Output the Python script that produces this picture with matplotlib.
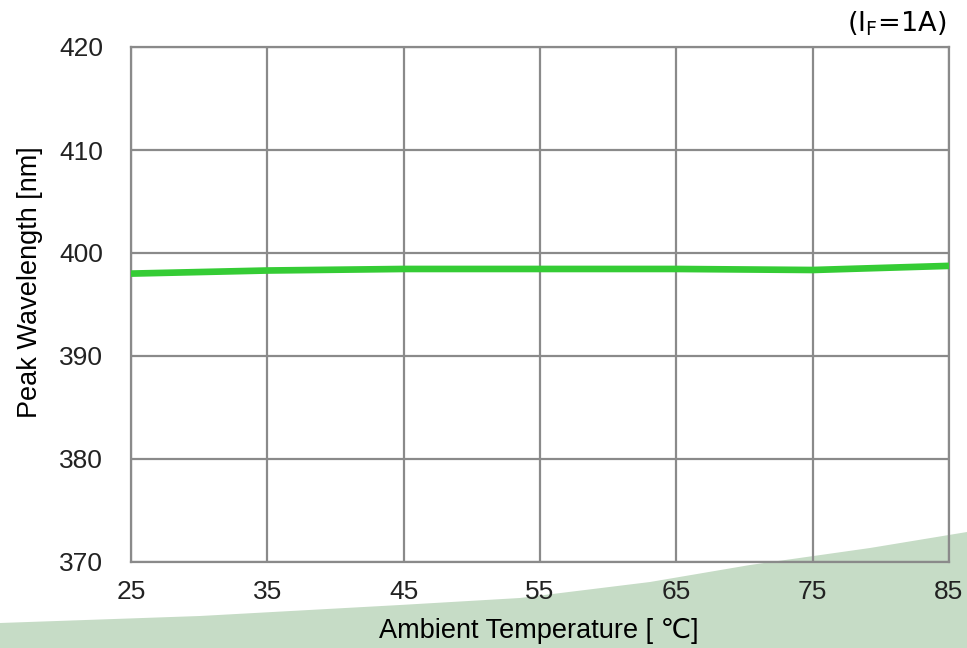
import matplotlib
matplotlib.use("Agg")
import matplotlib.pyplot as plt
import numpy as np
from matplotlib.patches import Polygon

temps = [25, 35, 45, 55, 65, 75, 85]
wavelength = [398.0, 398.3, 398.45, 398.45, 398.45, 398.35, 398.75]
x_ticks = [25, 35, 45, 55, 65, 75, 85]
y_ticks = [370, 380, 390, 400, 410, 420]

plt.rcParams['font.family'] = ['Liberation Sans', 'DejaVu Sans']
plt.rcParams['mathtext.default'] = 'regular'

W, H = 967, 648
fig = plt.figure(figsize=(W / 100, H / 100), dpi=100)

# decorative green swoosh at the bottom (figure pixel coords -> fraction)
bx = np.array([0, 200, 400, 520, 650, 750, 870, 967])
by = np.array([623, 616, 605, 598, 582, 565, 548, 532])
verts = [(x / W, 1 - y / H) for x, y in zip(bx, by)] + [(1, 0), (0, 0)]
fig.patches.append(Polygon(verts, closed=True, transform=fig.transFigure,
                           facecolor='#c6dcc6', edgecolor='none', zorder=-5))

ax = fig.add_axes([131 / W, 1 - 562 / H, (949 - 131) / W, (562 - 47) / H])
ax.set_zorder(2)
ax.set_facecolor('none')
ax.plot(temps, wavelength, color='#35cc35', linewidth=4.8, solid_capstyle='butt', zorder=3)

ax.set_xlim(25, 85)
ax.set_ylim(370, 420)
ax.set_xticks(x_ticks)
ax.set_yticks(y_ticks)
ax.grid(True, color='#8a8a8a', linewidth=1.6)
for s in ax.spines.values():
    s.set_color('#8a8a8a')
    s.set_linewidth(1.6)
ax.tick_params(length=0, labelsize=19, colors='#222222')
ax.tick_params(axis='y', pad=20)
ax.tick_params(axis='x', pad=13)
ax.set_xlabel('Ambient Temperature [ \u2103]', fontsize=19.5, color='black')
ax.set_ylabel('Peak Wavelength [nm]', fontsize=19.5, color='black')
ax.yaxis.set_label_coords(-88 / 818, 0.544)
ax.xaxis.set_label_coords(0.498, -56 / 515)

fig.text(946 / W, 1 - 24 / H, r'(I$_{F}$=1A)', fontsize=19.5, ha='right', va='center',
         family=['DejaVu Sans'], zorder=5)

fig.savefig('out.png', dpi=100)
